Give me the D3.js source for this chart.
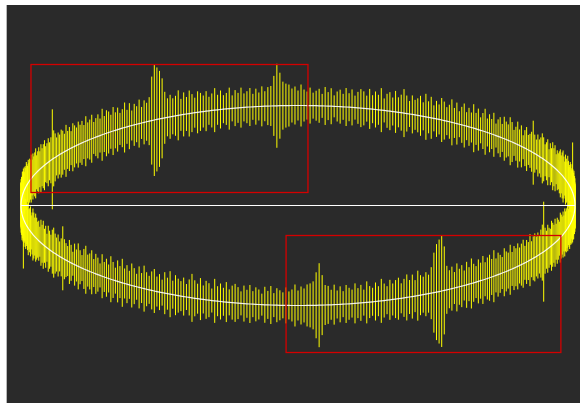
<!DOCTYPE html>
<html lang="en">
<head>
    <meta charset="UTF-8">
    <script src="https://cdn.jsdelivr.net/npm/d3@7"></script>
    <title>Ellipse signal</title>
    <style>
        body {
            margin: 0;
            background: #ffffff;
        }
        svg {
            display: block;
        }
    </style>
</head>
<body>
<svg width="580" height="403"></svg>

<script>
    const WIDTH = 580;
    const HEIGHT = 403;
    const PLOT_LEFT = 6;
    const PLOT_TOP = 5;

    // amplitude per angular bin (hundredths of the minor radius),
    // the same bins are repeated on the opposite half of the ellipse
    const amplitudes = [
        22, 18, 25, 20, 17, 24, 21, 19, 26, 23, 20, 24, 50, 27, 22, 19,
        24, 25, 21, 18, 23, 27, 20, 22, 25, 17, 21, 26, 23, 19, 24, 21,
        18, 20, 15, 23, 19, 24, 17, 21, 14, 23, 19, 16, 22, 25, 20, 17,
        21, 15, 19, 32, 20, 17, 15, 22, 18, 12, 21, 16, 23, 17, 13, 20,
        24, 16, 18, 22, 14, 20, 17, 12, 22, 15, 19, 14, 23, 18, 13, 21,
        16, 24, 15, 19, 14, 22, 18, 13, 21, 15, 23, 17, 14, 19, 22, 15,
        18, 13, 21, 16, 23, 14, 20, 17, 15, 19, 13, 18, 24, 18, 15, 21,
        14, 19, 17, 12, 22, 15, 18, 14, 20, 13, 17, 19, 16, 12, 18, 14,
        19, 13, 17, 15, 11, 18, 14, 19, 12, 17, 15, 13, 18, 14, 16, 21,
        15, 19, 17, 21, 22, 24, 33, 42, 30, 20, 19, 15, 20, 14, 18, 13,
        19, 16, 14, 20, 15, 18, 13, 21, 16, 14, 19, 15, 22, 17, 14, 20,
        16, 19, 21, 15, 19, 23, 17, 22, 16, 25, 20, 18, 22, 19, 26, 40,
        48, 52, 56, 44, 24, 19, 22, 16, 24, 18, 21, 15, 23, 17, 25, 19,
        16, 22, 18, 24, 17, 21, 23, 18, 26, 17, 22, 19, 16, 24, 20, 18,
        25, 17, 22, 19, 23, 18, 21, 24, 17, 22, 19, 26, 18, 22, 24, 20,
        23, 19, 24, 28, 50, 23, 19, 24, 20, 18, 25, 22, 19, 24, 18, 23,
        20, 17, 25, 22, 19, 23, 18, 24, 20, 22, 19, 23, 18, 21, 24, 19,
        22, 17, 23, 20, 18, 22, 19, 24, 20, 18, 22, 21, 19, 23, 20, 22
    ];

    // selection boxes in data units: [x0, x1, y0, y1]
    const boxes = [
        [-0.964, 0.036, 0.13, 1.41],
        [-0.043, 0.949, -1.47, -0.30]
    ];

    const axisExtent = [-1, 1];

    function init() {
        const [x, y] = makeScales();
        const points = makePoints();
        drawBackground();
        drawSpikes(points, x, y);
        drawEllipse(points, x, y);
        drawAxisLine(x, y);
        drawBoxes(x, y);
    }

    function makeScales() {
        const x = d3.scaleLinear()
            .domain(axisExtent)
            .range([21, 575]);
        const y = d3.scaleLinear()
            .domain(axisExtent)
            .range([305.5, 105.5]);
        return [x, y];
    }

    function makePoints() {
        const n = amplitudes.length * 2;
        return d3.range(n).map(i => {
            const t = i * 2 * Math.PI / n;
            return {
                cx: Math.cos(t),
                cy: Math.sin(t),
                a: amplitudes[i % amplitudes.length] / 100
            };
        });
    }

    function drawBackground() {
        const svg = d3.select("svg");
        svg.append("rect")
            .attr("x", PLOT_LEFT)
            .attr("y", PLOT_TOP)
            .attr("width", WIDTH - PLOT_LEFT)
            .attr("height", HEIGHT - PLOT_TOP)
            .style("fill", "#2a2a2a");
        svg.append("line")
            .attr("x1", PLOT_LEFT + 0.5)
            .attr("x2", PLOT_LEFT + 0.5)
            .attr("y1", PLOT_TOP)
            .attr("y2", HEIGHT)
            .style("stroke", "#b8b8b8")
            .style("stroke-width", 1);
    }

    function drawSpikes(points, x, y) {
        d3.select("svg")
            .append("g")
            .attr("class", "spikes")
            .selectAll("line")
            .data(points)
            .enter()
            .append("line")
            .attr("x1", d => x(d.cx))
            .attr("x2", d => x(d.cx))
            .attr("y1", d => y(d.cy + d.a))
            .attr("y2", d => y(d.cy - d.a))
            .style("stroke", "#ffff00")
            .style("stroke-width", 1);
    }

    function drawEllipse(points, x, y) {
        const line = d3.line()
            .x(d => x(d.cx))
            .y(d => y(d.cy))
            .curve(d3.curveLinearClosed);

        d3.select("svg")
            .append("path")
            .attr("d", line(points))
            .style("fill", "none")
            .style("stroke", "#ffffff")
            .style("stroke-opacity", 0.9)
            .style("stroke-width", 1.2);
    }

    function drawAxisLine(x, y) {
        d3.select("svg")
            .append("line")
            .attr("x1", x(axisExtent[0]))
            .attr("x2", x(axisExtent[1]))
            .attr("y1", y(0))
            .attr("y2", y(0))
            .style("stroke", "#ffffff")
            .style("stroke-width", 1);
    }

    function drawBoxes(x, y) {
        d3.select("svg")
            .append("g")
            .attr("class", "boxes")
            .selectAll("rect")
            .data(boxes)
            .enter()
            .append("rect")
            .attr("x", d => x(d[0]))
            .attr("y", d => y(d[3]))
            .attr("width", d => x(d[1]) - x(d[0]))
            .attr("height", d => y(d[2]) - y(d[3]))
            .style("fill", "none")
            .style("stroke", "#d40000")
            .style("stroke-width", 1.3);
    }

    init();
</script>
</body>
</html>
